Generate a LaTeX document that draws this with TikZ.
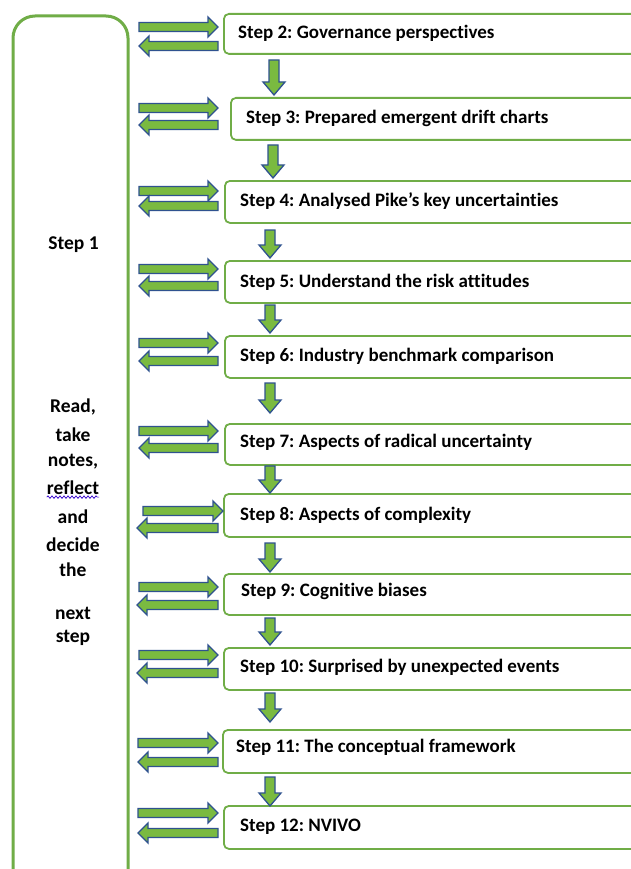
\documentclass[tikz,border=0pt]{standalone}
\usepackage{fontspec}
\setmainfont{Carlito}[Ligatures=NoCommon]
\frenchspacing
\usetikzlibrary{decorations.pathmorphing}
\definecolor{gborder}{RGB}{112,173,71}
\definecolor{gfill}{RGB}{122,186,64}
\definecolor{bline}{RGB}{47,82,143}
\tikzset{
  blockarrow/.style={fill=gfill, draw=bline, line width=1.3pt, line join=miter},
  stepbox/.style={draw=gborder, line width=1.8pt, rounded corners=5pt, fill=white, anchor=north west, minimum width=440pt, inner sep=0pt},
  steptext/.style={font=\bfseries\fontsize{19}{22}\selectfont, anchor=west, inner sep=0pt},
  sidetext/.style={font=\bfseries\fontsize{19.5}{22}\selectfont, anchor=center, inner sep=0pt},
}
\newcommand\myRA[3]{\draw[blockarrow] (#1,#3-4.5) -- (#2-10,#3-4.5) -- (#2-10,#3-10) -- (#2,#3) -- (#2-10,#3+10) -- (#2-10,#3+4.5) -- (#1,#3+4.5) -- cycle;}
\newcommand\myLA[3]{\draw[blockarrow] (#2,#3-4.5) -- (#1+10,#3-4.5) -- (#1+10,#3-10) -- (#1,#3) -- (#1+10,#3+10) -- (#1+10,#3+4.5) -- (#2,#3+4.5) -- cycle;}
\newcommand\myDA[3]{\draw[blockarrow] (#1-5,#2) -- (#1+5,#2) -- (#1+5,#3-13) -- (#1+11,#3-13) -- (#1,#3) -- (#1-11,#3-13) -- (#1-5,#3-13) -- cycle;}
\begin{document}
\begin{tikzpicture}[x=1pt,y=-1pt]
\useasboundingbox (0,0) rectangle (631,869);
\clip (0,0) rectangle (631,869);
\fill[white] (0,0) rectangle (631,869);
% side box
\draw[gborder, line width=3pt, rounded corners=22pt] (13,900) -- (13,16) -- (128,16) -- (128,900);
\node[sidetext] (s1) at (73.5,245) {Step 1};
\node[sidetext] (l1) at (73,407) {Read,};
\node[sidetext] (l2) at (73,435) {take};
\node[sidetext] (l3) at (73,462) {notes,};
\node[sidetext] (l4) at (73,488) {reflect};
\node[sidetext] (l5) at (73,517) {and};
\node[sidetext] (l6) at (73,545) {decide};
\node[sidetext] (l7) at (73,570) {the};
\node[sidetext] (l8) at (73,613) {next};
\node[sidetext] (l9) at (73,638) {step};
\draw[blue!60!violet, line width=0.7pt, decorate, decoration={snake, amplitude=1.2pt, segment length=4pt}] ([yshift=-2pt]l4.south west) -- ([yshift=-2pt]l4.south east);
% step boxes
\node[stepbox, minimum height=40pt] (b2) at (223,13) {};
\node[stepbox, minimum height=42pt] (b3) at (230,97) {};
\node[stepbox, minimum height=42pt] (b4) at (224,180) {};
\node[stepbox, minimum height=42pt] (b5) at (224,260) {};
\node[stepbox, minimum height=42pt] (b6) at (224,335) {};
\node[stepbox, minimum height=41pt] (b7) at (224,423) {};
\node[stepbox, minimum height=43pt] (b8) at (223,493) {};
\node[stepbox, minimum height=41pt] (b9) at (223,573) {};
\node[stepbox, minimum height=42pt] (b10) at (223,647) {};
\node[stepbox, minimum height=43pt] (b11) at (222,729) {};
\node[stepbox, minimum height=43pt] (b12) at (223,805) {};
% texts
\node[steptext] (t2) at (238,33) {Step 2: Governance perspectives};
\node[steptext] (t3) at (246,118) {Step 3: Prepared emergent drift charts};
\node[steptext] (t4) at (240,201) {Step 4: Analysed Pike’s key uncertainties};
\node[steptext] (t5) at (240,282) {Step 5: Understand the risk attitudes};
\node[steptext] (t6) at (240,356) {Step 6: Industry benchmark comparison};
\node[steptext] (t7) at (240,442) {Step 7: Aspects of radical uncertainty};
\node[steptext] (t8) at (240,515) {Step 8: Aspects of complexity};
\node[steptext] (t9) at (241,591) {Step 9: Cognitive biases};
\node[steptext] (t10) at (240,667) {Step 10: Surprised by unexpected events};
\node[steptext] (t11) at (236,747) {Step 11: The conceptual framework};
\node[steptext] (t12) at (240,827) {Step 12: NVIVO};
% double arrows
\myRA{139}{218}{27}  \myLA{139}{218}{46}
\myRA{139}{218}{108} \myLA{139}{218}{125}
\myRA{139}{218}{191} \myLA{139}{218}{206}
\myRA{139}{218}{269} \myLA{139}{218}{286}
\myRA{139}{218}{343} \myLA{139}{218}{361}
\myRA{139}{218}{431} \myLA{139}{218}{448}
\myRA{143}{223}{511} \myLA{137}{218}{528}
\myRA{139}{218}{587} \myLA{137}{218}{605}
\myRA{139}{218}{655} \myLA{137}{218}{673}
\myRA{138}{218}{743} \myLA{138}{218}{762}
\myRA{138}{218}{813} \myLA{138}{218}{833}
% down arrows
\myDA{274}{60}{95}
\myDA{273}{145}{178}
\myDA{270}{230}{258}
\myDA{270}{305}{333}
\myDA{270}{383}{413}
\myDA{270}{466}{493}
\myDA{270}{543}{572}
\myDA{270}{618}{645}
\myDA{270}{693}{722}
\myDA{270}{777}{806}
\end{tikzpicture}
\end{document}
